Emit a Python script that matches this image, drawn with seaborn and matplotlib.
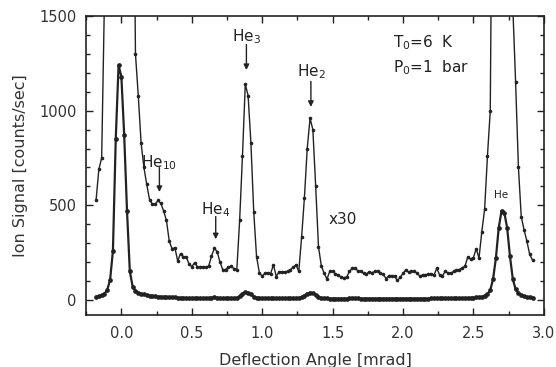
import numpy as np
import pandas as pd
import seaborn as sns
import matplotlib.pyplot as plt
from matplotlib.ticker import MultipleLocator

# deflection angle grid of the scan [mrad]
angle = np.round(-0.18 + 0.02 * np.arange(156), 2)

# measured ion signal [counts/sec]
signal = [
    16, 20, 24, 32, 53, 106, 260, 850, 1240, 1180,
    870, 470, 150, 70, 48, 38, 32, 28, 25, 22,
    20, 18, 17, 16, 15, 14, 13, 12, 12, 11,
    10, 10, 9, 9, 9, 8, 8, 8, 8, 9,
    9, 10, 12, 11, 9, 8, 8, 8, 8, 8,
    10, 18, 32, 40, 38, 28, 16, 10, 8, 7,
    7, 7, 8, 8, 7, 7, 7, 7, 8, 8,
    8, 9, 10, 14, 22, 32, 38, 35, 26, 15,
    9, 7, 7, 6, 6, 6, 6, 6, 6, 6,
    7, 7, 7, 7, 6, 6, 6, 6, 6, 6,
    6, 6, 6, 6, 6, 6, 6, 6, 6, 6,
    6, 6, 6, 6, 6, 6, 6, 6, 6, 7,
    7, 7, 7, 7, 7, 7, 7, 7, 8, 8,
    8, 9, 9, 10, 11, 12, 14, 16, 22, 30,
    50, 110, 220, 380, 470, 460, 380, 230, 110, 55,
    35, 25, 18, 15, 12, 11,
]

# same scan magnified x30 (offset baseline)
signal_x30 = [
    525, 690, 750, 1600, 8000, 20000, 30000, 36000, 37000, 36000,
    28000, 15000, 6000, 3000, 1300, 1080, 830, 700, 610, 530,
    505, 505, 525, 510, 470, 420, 310, 270, 275, 205,
    244, 228, 228, 190, 175, 196, 175, 172, 175, 172,
    178, 230, 272, 255, 200, 159, 160, 172, 176, 165,
    160, 420, 760, 1140, 1080, 830, 466, 228, 143, 125,
    140, 143, 138, 185, 123, 148, 148, 148, 150, 159,
    171, 185, 150, 330, 540, 800, 960, 900, 600, 280,
    180, 140, 110, 150, 150, 138, 130, 120, 117, 120,
    150, 166, 168, 152, 150, 140, 136, 148, 143, 150,
    150, 142, 134, 112, 128, 128, 124, 102, 118, 140,
    158, 146, 150, 150, 142, 124, 132, 132, 136, 138,
    130, 166, 132, 126, 150, 142, 140, 150, 158, 160,
    168, 178, 225, 215, 222, 270, 220, 360, 480, 760,
    1000, 3000, 8000, 13000, 14500, 14000, 11000, 5000, 1550, 1150,
    700, 440, 370, 310, 240, 210,
]

# peak labels: (text, x of arrow, text y, arrow start y, arrow tip y)
peak_labels = [
    ("He$_{10}$", 0.27, 726, 700, 570),
    ("He$_4$", 0.67, 477, 440, 320),
    ("He$_3$", 0.888, 1389, 1350, 1215),
    ("He$_2$", 1.346, 1208, 1155, 1020),
]

df = pd.DataFrame({"angle": angle, "signal": signal, "x30": signal_x30})

sns.set_style("ticks")
plt.rcParams["font.family"] = ["DejaVu Sans"]
ink = "#222222"

fig = plt.figure(figsize=(5.56, 3.67), dpi=100)
ax = fig.add_axes([0.155, 0.142, 0.823, 0.814])

sns.lineplot(data=df, x="angle", y="x30", ax=ax, color=ink, lw=1.0,
             marker="o", markersize=2.6, markeredgewidth=0)
sns.lineplot(data=df, x="angle", y="signal", ax=ax, color=ink, lw=1.6,
             marker="o", markersize=3.4, markeredgewidth=0)

ax.set_xlim(-0.25, 3.0)
ax.set_ylim(-80, 1500)
ax.xaxis.set_major_locator(MultipleLocator(0.5))
ax.xaxis.set_minor_locator(MultipleLocator(0.25))
ax.yaxis.set_major_locator(MultipleLocator(500))
ax.yaxis.set_minor_locator(MultipleLocator(100))
ax.tick_params(which="both", direction="in", top=True, right=True,
               color=ink, labelcolor="#333333", labelsize=10.5)
ax.tick_params(which="major", length=5, width=1)
ax.tick_params(which="minor", length=3, width=1)
ax.tick_params(axis="y", pad=7)
ax.tick_params(axis="x", pad=8)
ax.xaxis.set_major_formatter(plt.FuncFormatter(lambda v, p: f"{v:.1f}"))
for s in ax.spines.values():
    s.set_linewidth(1.2)
    s.set_color(ink)

ax.set_xlabel("Deflection Angle [mrad]", fontsize=11.5, color="#333333", labelpad=9)
ax.set_ylabel("Ion Signal [counts/sec]", fontsize=11.5, color="#333333", labelpad=8)

for txt, xa, ty, y0, y1 in peak_labels:
    ax.text(xa, ty, txt, ha="center", va="center", fontsize=11, color=ink)
    ax.annotate("", xy=(xa, y1), xytext=(xa, y0),
                arrowprops=dict(arrowstyle="-|>", color=ink, lw=1,
                                mutation_scale=8, shrinkA=0, shrinkB=0))

ax.text(2.70, 556, "He", ha="center", va="center", fontsize=7.5, color=ink)
ax.text(1.47, 424, "x30", ha="left", va="center", fontsize=11, color=ink)
ax.text(1.93, 1362, "T$_0$=6  K", ha="left", va="center", fontsize=11, color=ink)
ax.text(1.93, 1230, "P$_0$=1  bar", ha="left", va="center", fontsize=11, color=ink)

fig.savefig("out.png", dpi=100)
